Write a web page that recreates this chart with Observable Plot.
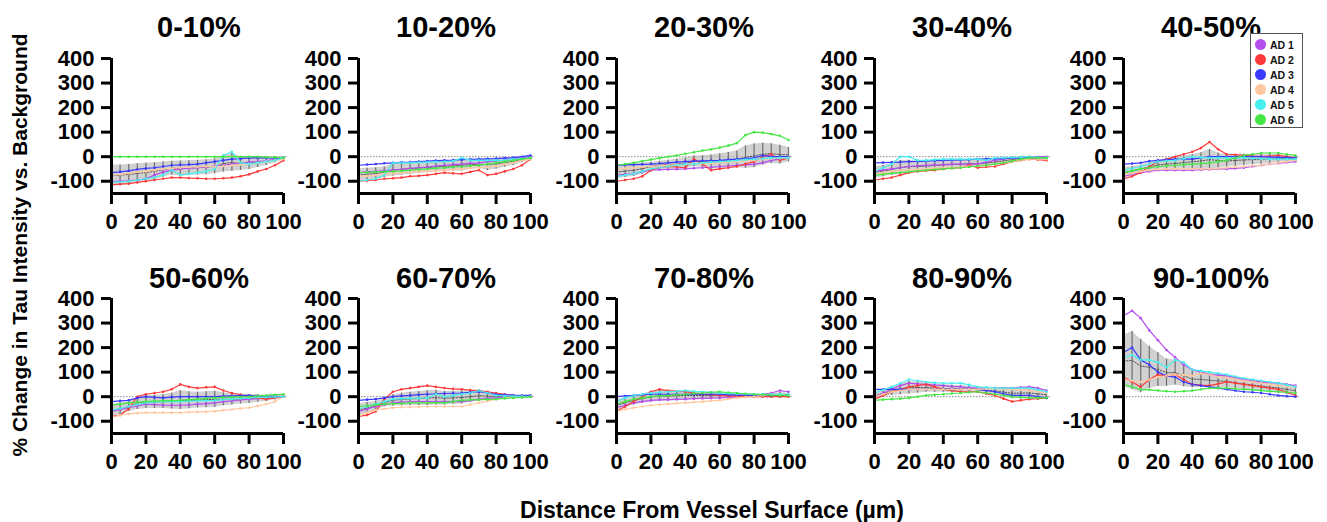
<!DOCTYPE html>
<html><head><meta charset="utf-8">
<script src="https://cdn.jsdelivr.net/npm/d3@7"></script>
<script src="https://cdn.jsdelivr.net/npm/@observablehq/plot@0.6"></script>
<style>
body{margin:0;background:#fff;font-family:"Liberation Sans",Arial,sans-serif;}
#root{position:relative;width:1327px;height:522px;overflow:hidden;background:#fff;}
.panel{position:absolute;}
#overlay{position:absolute;left:0;top:0;}
#legend{position:absolute;left:1250px;top:33px;width:53px;height:95px;border:1.5px solid #555;box-sizing:border-box;background:#fff;padding:3px 0 0 4px;}
.li{display:flex;align-items:center;height:15px;font-size:10.5px;font-weight:bold;color:#111;}
.sw{width:11px;height:11px;border-radius:50%;margin-right:4px;}
</style>
</head><body>
<div id="root"></div>
<script>
// ---- data ----
const panelTitles = ["0-10%","10-20%","20-30%","30-40%","40-50%","50-60%","60-70%","70-80%","80-90%","90-100%"];
const seriesNames = ["AD 1","AD 2","AD 3","AD 4","AD 5","AD 6"];
const seriesColors = ["#b54ced","#ff3a3a","#3a3aff","#ffc8a0","#47eeee","#44e644"];
const distance = [0,5,10,15,20,25,30,35,40,45,50,55,60,65,70,75,80,85,90,95,100];
const xTicks = [0,20,40,60,80,100];
const yTicks = [-100,0,100,200,300,400];

const p1_AD1 = [-100,-100,-98,-95,-90,-75,-62,-55,-50,-47,-45,-42,-38,-35,-30,-27,-22,-20,-17,-10,-5];
const p1_AD2 = [-115,-112,-110,-105,-100,-95,-90,-85,-85,-87,-88,-90,-90,-88,-85,-80,-72,-60,-50,-35,-15];
const p1_AD3 = [-65,-62,-58,-52,-48,-45,-40,-35,-33,-32,-30,-25,-20,-15,-10,-8,-5,-5,-5,-5,-5];
const p1_AD4 = [-75,-72,-68,-62,-60,-55,-50,-48,-45,-43,-42,-40,-40,-38,-35,-32,-30,-25,-20,-15,-10];
const p1_AD5 = [-105,-103,-100,-95,-90,-85,-75,-55,-75,-70,-65,-60,-50,5,20,-25,-30,-25,-20,-15,-5];
const p1_AD6 = [0,0,0,0,0,0,0,0,0,0,0,0,0,0,0,0,0,0,-2,-3,-5];

const p2_AD1 = [-65,-62,-60,-57,-55,-52,-48,-45,-42,-38,-35,-32,-30,-27,-25,-20,-17,-15,-10,-5,0];
const p2_AD2 = [-100,-98,-95,-90,-88,-85,-80,-78,-75,-70,-65,-68,-70,-62,-55,-75,-70,-60,-50,-35,-10];
const p2_AD3 = [-35,-32,-30,-27,-25,-23,-22,-20,-18,-16,-15,-14,-12,-11,-10,-9,-8,-6,-4,0,5];
const p2_AD4 = [-80,-78,-75,-70,-68,-65,-63,-60,-58,-57,-55,-52,-50,-47,-45,-42,-38,-30,-25,-15,-10];
const p2_AD5 = [-100,-95,-90,-75,-25,-25,-25,-23,-22,-21,-20,-18,-5,-15,-15,-15,-15,-15,-10,-8,-5];
const p2_AD6 = [-65,-64,-62,-61,-60,-58,-55,-52,-50,-47,-45,-42,-40,-37,-35,-30,-25,-20,-15,-10,-5];

const p3_AD1 = [-75,-72,-70,-62,-55,-53,-52,-51,-50,-47,-45,-43,-40,-38,-35,-33,-30,-25,-15,-10,-5];
const p3_AD2 = [-100,-95,-90,-80,-55,-45,-40,-42,-45,-10,-30,-55,-50,-45,-40,-30,-20,0,10,-15,-5];
const p3_AD3 = [-35,-33,-32,-31,-30,-28,-25,-22,-20,-18,-17,-16,-15,-12,-10,-8,-5,5,0,0,0];
const p3_AD4 = [-50,-48,-45,-42,-40,-37,-35,-32,-30,-28,-27,-26,-25,-22,-20,-18,-15,-10,-8,-6,-5];
const p3_AD5 = [-80,-75,-70,-60,-50,-45,-40,-35,-30,-30,-25,-22,-20,-18,-15,-12,-10,-8,-5,-5,-5];
const p3_AD6 = [-35,-30,-25,-18,-12,-6,0,5,12,18,25,30,37,45,55,88,100,98,92,85,68];

const p4_AD1 = [-60,-55,-50,-45,-40,-37,-35,-33,-32,-30,-30,-30,-30,-22,-15,-10,-5,-3,0,0,0];
const p4_AD2 = [-95,-90,-85,-75,-65,-60,-57,-55,-50,-47,-45,-35,-45,-42,-40,-30,-20,-15,-10,-12,-15];
const p4_AD3 = [-25,-24,-23,-22,-20,-19,-18,-16,-15,-14,-13,-12,-10,-9,-8,-7,-5,-5,-5,-5,-5];
const p4_AD4 = [-70,-65,-60,-57,-55,-52,-50,-47,-45,-43,-42,-40,-38,-35,-30,-25,-20,-15,-10,-10,-10];
const p4_AD5 = [-60,-45,-30,0,0,-15,-15,-12,-10,-10,-10,-10,-10,-15,-5,-5,-3,-2,0,-3,-5];
const p4_AD6 = [-75,-72,-68,-65,-62,-58,-55,-52,-50,-47,-45,-42,-38,-35,-30,-25,-18,-10,-5,-5,-5];

const p5_AD1 = [-80,-72,-65,-60,-55,-55,-55,-55,-55,-53,-52,-50,-50,-48,-45,-40,-35,-30,-27,-23,-20];
const p5_AD2 = [-90,-80,-65,-40,-20,-10,0,10,20,35,60,30,10,8,5,2,0,2,5,0,-5];
const p5_AD3 = [-30,-28,-25,-18,-15,-12,-10,-10,-10,-5,0,0,0,0,0,0,0,-2,-3,-4,-5];
const p5_AD4 = [-75,-68,-60,-55,-52,-50,-50,-50,-50,-50,-50,-48,-45,-42,-40,-37,-35,-30,-25,-20,-15];
const p5_AD5 = [-55,-48,-40,-30,-20,-17,-15,-8,0,-3,-5,-5,-5,-5,-5,-7,-8,-9,-10,-10,-10];
const p5_AD6 = [-65,-58,-50,-45,-40,-37,-35,-32,-30,-28,-25,-20,-15,-5,5,10,15,15,15,10,5];

const p6_AD1 = [-60,-52,-45,-38,-30,-32,-34,-35,-35,-33,-30,-28,-25,-20,-17,-13,-10,-7,-5,-2,0];
const p6_AD2 = [-80,-75,-50,0,10,15,20,30,50,40,35,38,40,25,15,8,0,-5,-10,-5,0];
const p6_AD3 = [-20,-17,-15,-5,0,-3,-5,-2,0,0,0,0,0,2,3,4,5,3,2,1,0];
const p6_AD4 = [-85,-75,-70,-67,-65,-65,-65,-65,-65,-63,-62,-61,-60,-55,-52,-48,-45,-38,-30,-20,0];
const p6_AD5 = [-55,-48,-40,-32,-25,-22,-20,-20,-20,-18,-17,-16,-15,-12,-10,-7,-5,-3,-2,-1,0];
const p6_AD6 = [-35,-30,-25,-22,-20,-18,-17,-16,-15,-12,-10,-7,-5,-3,-2,-1,0,3,5,8,10];

const p7_AD1 = [-60,-50,-40,-32,-25,-22,-21,-20,-20,-20,-20,-20,-20,-15,-10,-7,-5,-3,-2,-1,0];
const p7_AD2 = [-80,-75,-60,-10,20,30,35,40,45,40,35,32,30,27,25,20,15,10,5,3,0];
const p7_AD3 = [-15,-12,-10,-5,0,3,5,8,10,12,13,14,15,18,20,15,10,8,6,5,5];
const p7_AD4 = [-80,-65,-55,-50,-45,-43,-42,-41,-40,-40,-40,-40,-40,-32,-25,-18,-10,-5,-2,0,0];
const p7_AD5 = [-50,-40,-30,-20,-10,-8,-7,-6,-5,10,0,5,10,15,25,15,5,3,2,1,0];
const p7_AD6 = [-40,-37,-33,-30,-28,-27,-25,-25,-25,-25,-25,-20,-15,-13,-12,-11,-10,-7,-5,-3,0];

const p8_AD1 = [-45,-35,-25,-20,-15,-13,-12,-11,-10,-8,-7,-6,-5,-3,-1,2,5,10,15,25,20];
const p8_AD2 = [-60,-40,-20,0,20,30,25,22,20,15,10,8,5,3,2,1,0,0,0,0,0];
const p8_AD3 = [0,3,5,8,10,10,10,10,10,10,10,10,10,8,7,6,5,5,5,5,5];
const p8_AD4 = [-60,-52,-45,-40,-35,-32,-30,-27,-25,-22,-20,-17,-15,-10,-5,-2,0,5,10,8,5];
const p8_AD5 = [-20,-5,5,10,15,18,20,22,25,22,20,18,15,13,12,11,10,10,10,10,10];
const p8_AD6 = [-30,-20,-10,-5,0,3,5,8,10,13,15,18,20,17,15,12,10,8,6,5,5];

const p9_AD1 = [0,15,30,45,55,52,50,47,45,42,40,37,35,35,35,35,35,38,40,35,25];
const p9_AD2 = [-10,5,20,30,40,45,50,40,30,25,20,20,20,12,5,-8,-20,-15,-10,-8,-5];
const p9_AD3 = [30,30,30,30,30,30,30,30,30,30,30,30,30,25,20,12,5,5,5,0,-5];
const p9_AD4 = [0,10,20,25,30,30,30,30,30,30,30,30,30,32,35,32,30,28,25,20,15];
const p9_AD5 = [15,28,40,55,70,65,60,57,55,55,55,48,40,38,35,35,35,35,35,28,20];
const p9_AD6 = [-15,-12,-10,-8,-5,0,5,8,10,13,15,18,20,15,10,5,0,-3,-5,-5,-5];

const p10_AD1 = [330,350,320,270,230,190,160,130,110,100,90,88,85,78,70,65,60,57,55,50,45];
const p10_AD2 = [80,60,40,70,90,85,90,70,50,47,45,52,60,55,50,45,40,35,30,18,5];
const p10_AD3 = [180,200,150,130,100,85,80,60,50,45,40,35,30,25,20,18,15,10,5,2,0];
const p10_AD4 = [70,65,60,70,80,85,90,88,85,95,90,80,78,70,65,60,55,50,45,42,40];
const p10_AD5 = [160,170,150,150,140,120,150,140,110,105,100,95,90,82,75,70,65,60,55,48,40];
const p10_AD6 = [50,40,30,28,25,22,20,22,25,30,35,35,35,32,30,28,25,22,20,18,15];

const panelSeries = [
  [p1_AD1,p1_AD2,p1_AD3,p1_AD4,p1_AD5,p1_AD6],
  [p2_AD1,p2_AD2,p2_AD3,p2_AD4,p2_AD5,p2_AD6],
  [p3_AD1,p3_AD2,p3_AD3,p3_AD4,p3_AD5,p3_AD6],
  [p4_AD1,p4_AD2,p4_AD3,p4_AD4,p4_AD5,p4_AD6],
  [p5_AD1,p5_AD2,p5_AD3,p5_AD4,p5_AD5,p5_AD6],
  [p6_AD1,p6_AD2,p6_AD3,p6_AD4,p6_AD5,p6_AD6],
  [p7_AD1,p7_AD2,p7_AD3,p7_AD4,p7_AD5,p7_AD6],
  [p8_AD1,p8_AD2,p8_AD3,p8_AD4,p8_AD5,p8_AD6],
  [p9_AD1,p9_AD2,p9_AD3,p9_AD4,p9_AD5,p9_AD6],
  [p10_AD1,p10_AD2,p10_AD3,p10_AD4,p10_AD5,p10_AD6]
];

// ---- layout ----
const axisX = [111, 358, 616, 874, 1123];
const rowTop = [0, 240];
const titleBase = [37, 288];
const ML = 62, MR = 12, W = 246, H = 240, MT = 58, MB = 47;
const FONT = "'Liberation Sans', Arial, sans-serif";

const root = document.getElementById("root");

panelSeries.forEach((series, p) => {
  const col = p % 5, row = Math.floor(p / 5);
  const rows = [];
  series.forEach((vals, s) => vals.forEach((v, i) => rows.push({series: seriesNames[s], x: distance[i], y: v})));
  const stats = distance.map((x, i) => {
    const vs = series.map(v => v[i]);
    const m = d3.mean(vs), sd = d3.deviation(vs);
    return {x, m, lo: m - sd, hi: m + sd};
  });
  const chart = Plot.plot({
    width: W, height: H, marginLeft: ML, marginRight: MR, marginTop: MT, marginBottom: MB,
    x: {domain: [0, 100], label: null},
    y: {domain: [-150, 400], label: null},
    color: {domain: seriesNames, range: seriesColors},
    style: {fontFamily: FONT, overflow: "visible", background: "transparent"},
    marks: [
      Plot.ruleY([0], {x1: 0, x2: 103, stroke: "#8a8a8a", strokeWidth: 1, strokeDasharray: "1.5,1.5"}),
      Plot.areaY(stats, {x: "x", y1: "lo", y2: "hi", fill: "#bdbdbd", fillOpacity: 0.7}),
      Plot.ruleX(stats, {x: "x", y1: "lo", y2: "hi", stroke: "#6f6f6f", strokeWidth: 1.2}),
      Plot.line(stats, {x: "x", y: "m", stroke: "#333", strokeWidth: 0.8, strokeDasharray: "1.5,1.5"}),
      Plot.line(rows, {x: "x", y: "y", z: "series", stroke: "series", strokeWidth: 1.2}),
      Plot.dot(rows, {x: "x", y: "y", fill: "series", r: 1.3}),
      Plot.ruleX([0], {y1: -150, y2: 400, stroke: "#000", strokeWidth: 3}),
      Plot.ruleY([-150], {x1: 0, x2: 100, stroke: "#000", strokeWidth: 3}),
      Plot.axisY({ticks: yTicks, tickSize: 10, tickPadding: 7, fontSize: 22, fontWeight: "bold", strokeWidth: 3, stroke: "#000", fill: "#000", tickFormat: d => String(d), label: null}),
      Plot.axisX({ticks: xTicks, tickSize: 11, tickPadding: 9, fontSize: 22, fontWeight: "bold", strokeWidth: 3, stroke: "#000", fill: "#000", tickFormat: d => String(d), label: null})
    ]
  });
  chart.classList.add("panel");
  chart.style.left = (axisX[col] - ML) + "px";
  chart.style.top = rowTop[row] + "px";
  root.appendChild(chart);
});

// overlay texts
const ns = "http://www.w3.org/2000/svg";
const ov = document.createElementNS(ns, "svg");
ov.setAttribute("id", "overlay");
ov.setAttribute("width", 1327); ov.setAttribute("height", 522);
ov.style.fontFamily = FONT; ov.style.fontWeight = "bold";
function addText(str, x, y, size, rot) {
  const t = document.createElementNS(ns, "text");
  t.textContent = str;
  t.setAttribute("x", x); t.setAttribute("y", y);
  t.setAttribute("text-anchor", "middle");
  t.setAttribute("font-size", size);
  if (rot) t.setAttribute("transform", `rotate(${rot},${x},${y})`);
  ov.appendChild(t);
}
panelTitles.forEach((t, p) => {
  const col = p % 5, row = Math.floor(p / 5);
  addText(t, axisX[col] + 88, titleBase[row], 29);
});
addText("% Change in Tau Intensity vs. Background", 27, 245, 21, -90);
addText("Distance From Vessel Surface (µm)", 712, 518, 23);
root.appendChild(ov);

// legend
const lg = document.createElement("div");
lg.id = "legend";
seriesNames.forEach((n, i) => {
  const it = document.createElement("div"); it.className = "li";
  const sw = document.createElement("div"); sw.className = "sw"; sw.style.background = seriesColors[i];
  it.appendChild(sw); it.appendChild(document.createTextNode(n));
  lg.appendChild(it);
});
root.appendChild(lg);
</script>
</body></html>
